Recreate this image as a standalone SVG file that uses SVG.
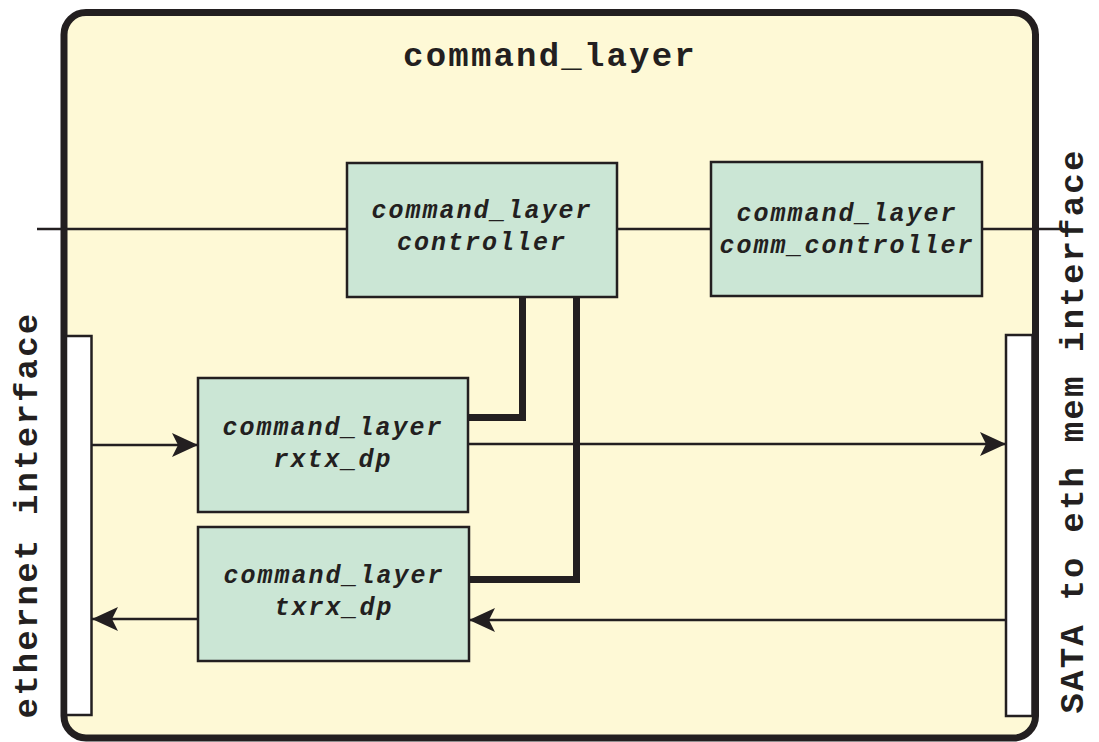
<svg xmlns="http://www.w3.org/2000/svg" width="1099" height="742" viewBox="0 0 1099 742">
  <style>
    .frame { fill: #FEF9D6; stroke: #231F20; stroke-width: 7; }
    .block { fill: #CBE6D5; stroke: #231F20; stroke-width: 2.5; }
    .port { fill: #FFFFFF; stroke: #231F20; stroke-width: 2.5; }
    .wire { fill: none; stroke: #231F20; stroke-width: 2.5; }
    .bus { fill: none; stroke: #231F20; stroke-width: 7; }
    .lbl { font-family: "Liberation Mono", "Courier New", monospace; font-weight: bold; fill: #231F20; }
    .big { font-size: 34px; letter-spacing: 2.2px; }
    .blk { font-size: 25px; font-style: italic; letter-spacing: 2px; text-anchor: middle; }
  </style>
  <defs>
    <marker id="arrow" viewBox="0 0 26 24" refX="26" refY="12" markerWidth="26" markerHeight="24" markerUnits="userSpaceOnUse" orient="auto">
      <path d="M0,0 L26,12 L0,24 L6,12 Z" fill="#231F20"/>
    </marker>
  </defs>

  <!-- outer module frame -->
  <g id="command_layer">
    <rect class="frame" x="64" y="12.5" width="971.5" height="725.5" rx="22"/>
    <text class="lbl big" x="550" y="66" text-anchor="middle">command_layer</text>
  </g>

  <!-- connectors -->
  <g id="connectors">
    <line class="wire" x1="37" y1="229" x2="347" y2="229"/>
    <line class="wire" x1="617" y1="229" x2="711" y2="229"/>
    <line class="wire" x1="982" y1="229" x2="1062" y2="229"/>
    <polyline class="bus" points="522.5,297 522.5,417.5 468,417.5"/>
    <polyline class="bus" points="576.5,297 576.5,579.5 469,579.5"/>
    <line class="wire" x1="92" y1="445" x2="198" y2="445" marker-end="url(#arrow)"/>
    <line class="wire" x1="468" y1="444" x2="1006" y2="444" marker-end="url(#arrow)"/>
    <line class="wire" x1="1006" y1="620" x2="469" y2="620" marker-end="url(#arrow)"/>
    <line class="wire" x1="198" y1="619" x2="92" y2="619" marker-end="url(#arrow)"/>
  </g>

  <!-- interface ports -->
  <g id="ethernet_interface">
    <rect class="port" x="66" y="336" width="25.5" height="379"/>
    <text class="lbl big" transform="translate(37,515) rotate(-90)" text-anchor="middle">ethernet interface</text>
  </g>
  <g id="sata_interface">
    <rect class="port" x="1006" y="335" width="26.5" height="381"/>
    <text class="lbl big" transform="translate(1083,431) rotate(-90)" text-anchor="middle">SATA to eth mem interface</text>
  </g>

  <!-- sub-blocks -->
  <g id="controller">
    <rect class="block" x="347" y="163" width="270" height="134"/>
    <text class="lbl blk" x="482" y="218">command_layer</text>
    <text class="lbl blk" x="482" y="250">controller</text>
  </g>
  <g id="comm_controller">
    <rect class="block" x="711" y="162" width="271" height="134"/>
    <text class="lbl blk" x="847" y="221">command_layer</text>
    <text class="lbl blk" x="847" y="253">comm_controller</text>
  </g>
  <g id="rxtx_dp">
    <rect class="block" x="198" y="378" width="270" height="134"/>
    <text class="lbl blk" x="333" y="435">command_layer</text>
    <text class="lbl blk" x="333" y="467">rxtx_dp</text>
  </g>
  <g id="txrx_dp">
    <rect class="block" x="198" y="527" width="271" height="134"/>
    <text class="lbl blk" x="334" y="583">command_layer</text>
    <text class="lbl blk" x="334" y="615">txrx_dp</text>
  </g>
</svg>
